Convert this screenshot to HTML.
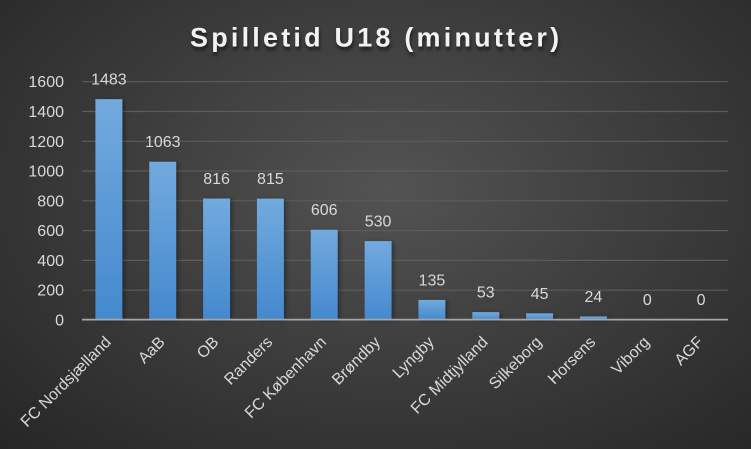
<!DOCTYPE html>
<html><head><meta charset="utf-8">
<style>
html,body{margin:0;padding:0;}
body{width:751px;height:449px;overflow:hidden;background:radial-gradient(ellipse farthest-corner at 52% 42%, #535353 0%, #3e3e3e 45%, #262626 100%);}
svg{display:block;}
text{font-family:"Liberation Sans",sans-serif;}
</style></head>
<body>
<svg width="751" height="449" viewBox="0 0 751 449" xmlns="http://www.w3.org/2000/svg">
<defs>
<linearGradient id="bg" x1="0" y1="0" x2="0" y2="1">
<stop offset="0" stop-color="#72aade"/>
<stop offset="1" stop-color="#4489ce"/>
</linearGradient>
<filter id="sh" x="-50%" y="-50%" width="200%" height="200%">
<feGaussianBlur stdDeviation="2"/>
</filter>
<filter id="tsh" x="-10%" y="-30%" width="120%" height="160%">
<feGaussianBlur stdDeviation="1.5"/>
</filter>
</defs>
<!-- title -->
<text x="190" y="48" font-size="27" font-weight="bold" fill="#000" opacity="0.5" letter-spacing="3.2" filter="url(#tsh)" transform="translate(1,2)">Spilletid U18 (minutter)</text>
<text x="190" y="46.5" font-size="27" font-weight="bold" fill="#f2f2f2" letter-spacing="3.2">Spilletid U18 (minutter)</text>
<!-- gridlines -->
<g stroke="#5c5c5c" stroke-width="1.2">
<line x1="82" x2="728" y1="290.2" y2="290.2"/>
<line x1="82" x2="728" y1="260.4" y2="260.4"/>
<line x1="82" x2="728" y1="230.6" y2="230.6"/>
<line x1="82" x2="728" y1="200.8" y2="200.8"/>
<line x1="82" x2="728" y1="171.0" y2="171.0"/>
<line x1="82" x2="728" y1="141.3" y2="141.3"/>
<line x1="82" x2="728" y1="111.5" y2="111.5"/>
<line x1="82" x2="728" y1="81.7" y2="81.7"/>
</g>
<!-- y labels -->
<g font-size="16" fill="#d9d9d9" text-anchor="end">
<text x="64" y="325.5">0</text>
<text x="64" y="295.7">200</text>
<text x="64" y="265.9">400</text>
<text x="64" y="236.1">600</text>
<text x="64" y="206.3">800</text>
<text x="64" y="176.5">1000</text>
<text x="64" y="146.8">1200</text>
<text x="64" y="117">1400</text>
<text x="64" y="87.2">1600</text>
</g>
<!-- bar shadows -->
<g fill="#000" opacity="0.35" filter="url(#sh)">
<rect x="97.4" y="100.1" width="27" height="219.9"/>
<rect x="151.25" y="162.7" width="27" height="157.3"/>
<rect x="205.1" y="199.5" width="27" height="120.5"/>
<rect x="258.9" y="199.6" width="27" height="120.4"/>
<rect x="312.7" y="230.7" width="27" height="89.3"/>
<rect x="366.6" y="242.1" width="27" height="77.9"/>
<rect x="420.4" y="300.9" width="27" height="19.1"/>
<rect x="474.3" y="313.1" width="27" height="6.9"/>
<rect x="528.1" y="314.3" width="27" height="5.7"/>
<rect x="581.9" y="317.4" width="27" height="2.6"/>
</g>
<!-- bars -->
<g fill="url(#bg)">
<rect x="95.4" y="99.1" width="27" height="220.9"/>
<rect x="149.25" y="161.7" width="27" height="158.3"/>
<rect x="203.1" y="198.5" width="27" height="121.5"/>
<rect x="256.9" y="198.6" width="27" height="121.4"/>
<rect x="310.7" y="229.7" width="27" height="90.3"/>
<rect x="364.6" y="241.1" width="27" height="78.9"/>
<rect x="418.4" y="299.9" width="27" height="20.1"/>
<rect x="472.3" y="312.1" width="27" height="7.9"/>
<rect x="526.1" y="313.3" width="27" height="6.7"/>
<rect x="579.9" y="316.4" width="27" height="3.6"/>
</g>
<!-- axis -->
<line x1="82" x2="728" y1="319.6" y2="319.6" stroke="#a6a6a6" stroke-width="1.8"/>
<!-- data labels -->
<g font-size="16" fill="#d9d9d9" text-anchor="middle">
<text x="108.9" y="84.6">1483</text>
<text x="162.75" y="147.2">1063</text>
<text x="216.6" y="184">816</text>
<text x="270.4" y="184.1">815</text>
<text x="324.2" y="215.2">606</text>
<text x="378.1" y="226.6">530</text>
<text x="431.9" y="285.4">135</text>
<text x="485.8" y="297.6">53</text>
<text x="539.6" y="298.8">45</text>
<text x="593.4" y="301.9">24</text>
<text x="647.3" y="305">0</text>
<text x="701.1" y="305">0</text>
</g>
<!-- x labels -->
<g font-size="16" fill="#d9d9d9" text-anchor="end">
<text transform="translate(111.9,343) rotate(-45)">FC Nordsjælland</text>
<text transform="translate(165.75,343) rotate(-45)">AaB</text>
<text transform="translate(219.6,343) rotate(-45)">OB</text>
<text transform="translate(273.4,343) rotate(-45)">Randers</text>
<text transform="translate(327.2,343) rotate(-45)">FC København</text>
<text transform="translate(381.1,343) rotate(-45)">Brøndby</text>
<text transform="translate(434.9,343) rotate(-45)">Lyngby</text>
<text transform="translate(488.8,343) rotate(-45)">FC Midtjylland</text>
<text transform="translate(542.6,343) rotate(-45)">Silkeborg</text>
<text transform="translate(596.4,343) rotate(-45)">Horsens</text>
<text transform="translate(650.3,343) rotate(-45)">Viborg</text>
<text transform="translate(704.1,343) rotate(-45)">AGF</text>
</g>
</svg>
</body></html>
